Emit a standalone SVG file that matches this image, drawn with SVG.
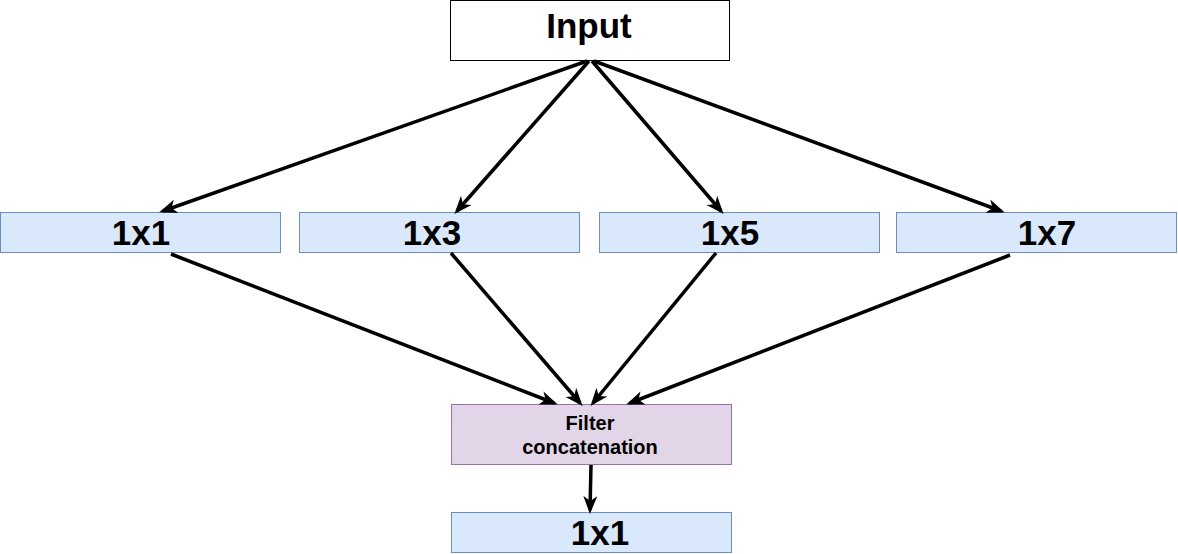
<svg xmlns="http://www.w3.org/2000/svg" width="1178" height="554" viewBox="0 0 1178 554">
<style>
.blue{fill:#dae8fc;stroke:#6c8ebf;stroke-width:1}
.purple{fill:#e1d5e7;stroke:#9673a6;stroke-width:1}
.white{fill:#ffffff;stroke:#000000;stroke-width:1}
.big{font-family:"Liberation Sans",Arial,sans-serif;font-weight:bold;font-size:35px;fill:#000;text-anchor:middle}
.small{font-family:"Liberation Sans",Arial,sans-serif;font-weight:bold;font-size:20px;fill:#000;text-anchor:middle}
.edge{stroke:#000;stroke-width:3.5;fill:none;marker-end:url(#arr)}
</style>
<defs>
<marker id="arr" markerWidth="18" markerHeight="16" refX="14" refY="8" orient="auto" markerUnits="userSpaceOnUse" viewBox="0 0 18 16">
<path d="M0,1 L18,8 L0,15 L5,8 Z" fill="#000"/>
</marker>
</defs>
<g id="input"><rect class="white" x="450.5" y="0.5" width="279" height="60"/><text class="big" x="589" y="38">Input</text></g>
<g id="n1x1"><rect class="blue" x="0.5" y="212.5" width="280" height="40"/><text class="big" x="141" y="245">1x1</text></g>
<g id="n1x3"><rect class="blue" x="299.5" y="212.5" width="280" height="40"/><text class="big" x="432" y="245">1x3</text></g>
<g id="n1x5"><rect class="blue" x="599.5" y="212.5" width="280" height="40"/><text class="big" x="730" y="245">1x5</text></g>
<g id="n1x7"><rect class="blue" x="896.5" y="212.5" width="280" height="40"/><text class="big" x="1047" y="245">1x7</text></g>
<g id="concat"><rect class="purple" x="451.5" y="404.5" width="280" height="60"/><text class="small" x="590" y="430">Filter</text><text class="small" x="590" y="454">concatenation</text></g>
<g id="out1x1"><rect class="blue" x="451.5" y="512.5" width="280" height="40"/><text class="big" x="600" y="545">1x1</text></g>
<g id="connectors">
<line class="edge" x1="587" y1="61" x2="163" y2="211"/>
<line class="edge" x1="589" y1="61" x2="457" y2="211"/>
<line class="edge" x1="592" y1="61" x2="721" y2="211"/>
<line class="edge" x1="594" y1="61" x2="1001" y2="211"/>
<line class="edge" x1="171" y1="254" x2="554" y2="403"/>
<line class="edge" x1="451" y1="253" x2="580" y2="403"/>
<line class="edge" x1="716" y1="253" x2="593" y2="403"/>
<line class="edge" x1="1010" y1="255" x2="630" y2="403"/>
<line class="edge" x1="591" y1="465" x2="590" y2="510"/>
</g>
</svg>
